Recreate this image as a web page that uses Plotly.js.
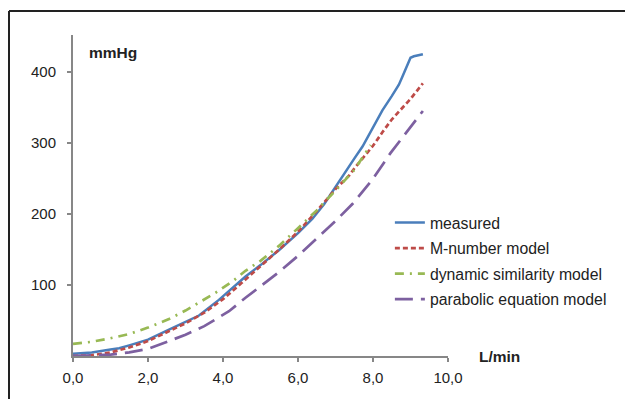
<!DOCTYPE html>
<html>
<head>
<meta charset="utf-8">
<script src="https://cdn.plot.ly/plotly-3.0.1.min.js"></script>
<style>
html,body{margin:0;padding:0;background:#fff;}
#chart{width:625px;height:399px;}
</style>
</head>
<body>
<div id="chart"></div>
<script>
// Data
const measuredX = [0, 0.5, 1, 1.23, 1.5, 2, 2.56, 3, 3.36, 3.89, 4.6, 5, 5.49, 6, 6.38, 6.7, 7.09, 7.36, 7.5, 7.72, 7.89, 8.25, 8.5, 8.69, 8.78, 8.9, 9.0, 9.09, 9.2, 9.33];
const measuredY = [3, 5, 9, 11, 15, 23, 37, 48, 57, 79, 112, 128, 149, 173, 193, 214, 246, 267, 278, 295, 312, 346, 366, 382, 393, 407, 420, 422, 423, 425];

const mnumX = [0, 0.5, 1, 1.5, 2, 2.5, 3, 3.5, 4, 4.5, 5, 5.5, 6, 6.5, 7, 7.36, 7.5, 8, 8.25, 8.5, 9, 9.33];
const mnumY = [0, 1, 5, 12, 21, 33, 46, 61, 80, 103, 126, 150, 175, 204, 235, 254, 264, 296, 315, 333, 362, 384];

const dynX = [0, 0.5, 1, 1.5, 2, 2.56, 3, 3.36, 3.8, 4.3, 4.6, 5, 5.49, 6, 6.2, 6.5, 7, 7.5, 7.94];
const dynY = [17, 20, 25, 31, 40, 52, 64, 75, 89, 107, 120, 134, 155, 180, 190, 205, 233, 262, 297];

const parX = [0, 0.5, 1, 1.5, 2, 2.56, 3, 3.5, 3.89, 4.16, 4.6, 5, 5.49, 6, 6.38, 7, 7.45, 7.98, 8.47, 9, 9.33];
const parY = [0, 0.5, 2, 5, 10, 21, 30, 42, 54, 63, 82, 98, 118, 141, 160, 190, 214, 248, 286, 323, 345];

const seriesNames = ["measured", "M-number model", "dynamic similarity model", "parabolic equation model"];
const xTickVals = [0, 2, 4, 6, 8, 10];
const xTickText = ["0,0", "2,0", "4,0", "6,0", "8,0", "10,0"];
const yTickVals = [100, 200, 300, 400];
const yTickText = ["100", "200", "300", "400"];

const font = "Liberation Sans, Arial, sans-serif";
const txtColor = "#222";

const traces = [
  {x: measuredX, y: measuredY, name: seriesNames[0], legendgroup: "a", mode: "lines",
   line: {color: "#4a7ebb", width: 2.5}},
  {x: mnumX, y: mnumY, name: seriesNames[1], legendgroup: "b", mode: "lines",
   line: {color: "#be4b48", width: 2.7, dash: "5px,3px"}},
  {x: dynX, y: dynY, name: seriesNames[2], legendgroup: "c", mode: "lines",
   line: {color: "#98b954", width: 2.7, dash: "9px,6px,2px,6px"}},
  {x: parX, y: parY, name: seriesNames[3], legendgroup: "d", mode: "lines",
   line: {color: "#7d60a0", width: 2.7, dash: "18px,8px"}}
];

const axisColor = "#878787";
const layout = {
  width: 625, height: 399,
  margin: {l: 73, r: 177, t: 35, b: 43},
  paper_bgcolor: "#fff", plot_bgcolor: "#fff",
  font: {family: font, size: 15, color: txtColor},
  showlegend: true,
  legend: {x: 0.845, y: 0.468, xanchor: "left", yanchor: "top",
           font: {family: font, size: 15.8, color: txtColor},
           traceorder: "grouped", tracegroupgap: 2, bgcolor: "rgba(0,0,0,0)"},
  xaxis: {range: [0, 10], tickvals: xTickVals, ticktext: xTickText,
          showgrid: false, zeroline: false, showline: true, linecolor: axisColor, linewidth: 2,
          ticks: "outside", ticklen: 4, tickwidth: 2, tickcolor: axisColor, ticklabelstandoff: 3,
          tickfont: {family: font, size: 15, color: txtColor}, fixedrange: true},
  yaxis: {range: [0, 452], tickvals: yTickVals, ticktext: yTickText,
          showgrid: false, zeroline: false, showline: true, linecolor: axisColor, linewidth: 2,
          ticks: "outside", ticklen: 4, tickwidth: 2, tickcolor: axisColor, ticklabelstandoff: 8,
          tickfont: {family: font, size: 15, color: txtColor}, fixedrange: true},
  annotations: [
    {text: "<b>mmHg</b>", xref: "paper", yref: "paper", x: 0.037, y: 0.944,
     xanchor: "left", yanchor: "middle", showarrow: false,
     font: {family: font, size: 15.5, color: txtColor}},
    {text: "<b>L/min</b>", xref: "paper", yref: "paper", x: 1.077, y: 0.0,
     xanchor: "left", yanchor: "middle", showarrow: false,
     font: {family: font, size: 15.5, color: txtColor}}
  ],
  shapes: [
    {type: "line", xref: "paper", yref: "paper",
     x0: (9 - 73) / 375, x1: (9 - 73) / 375, y0: (356 - 11) / 321, y1: (356 - 405) / 321,
     line: {color: "#222", width: 2}},
    {type: "line", xref: "paper", yref: "paper",
     x0: (9 - 73) / 375, x1: (630 - 73) / 375, y0: (356 - 11) / 321, y1: (356 - 11) / 321,
     line: {color: "#222", width: 2}}
  ]
};

Plotly.newPlot("chart", traces, layout, {displayModeBar: false, staticPlot: true});
</script>
</body>
</html>
